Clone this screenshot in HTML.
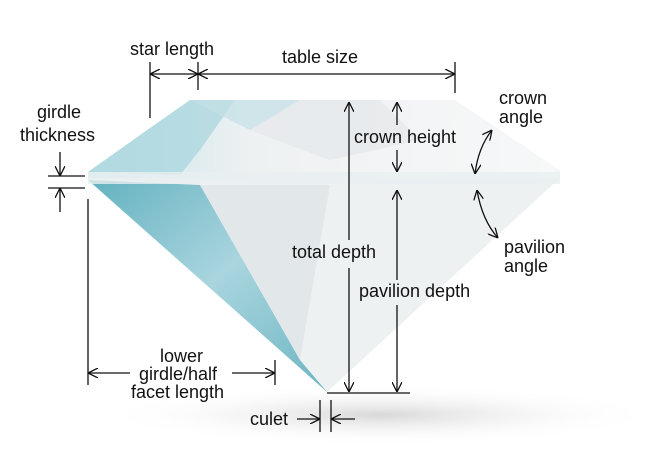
<!DOCTYPE html>
<html><head><meta charset="utf-8"><style>
html,body{margin:0;padding:0;background:#fff;}
svg{display:block;}
text{font-family:"Liberation Sans",sans-serif;font-size:18px;fill:#111;}
</style></head><body>
<svg width="655" height="460" viewBox="0 0 655 460">
<defs>
<linearGradient id="body" x1="0" x2="1" y1="0" y2="0">
<stop offset="0" stop-color="#c6e4ea"/><stop offset="0.35" stop-color="#eef1f2"/><stop offset="1" stop-color="#f7f8f9"/>
</linearGradient>
<linearGradient id="cyan" x1="0" x2="1" y1="0" y2="1">
<stop offset="0" stop-color="#4aa6b6"/><stop offset="0.5" stop-color="#9dd0db"/><stop offset="1" stop-color="#55abba"/>
</linearGradient>
<radialGradient id="shadow" cx="0.5" cy="0.5" r="0.5">
<stop offset="0" stop-color="#d8d8d8"/><stop offset="1" stop-color="#fff" stop-opacity="0"/>
</radialGradient>
<marker id="ah" viewBox="0 0 10 10" refX="10" refY="5" markerWidth="10" markerHeight="10" orient="auto-start-reverse" markerUnits="userSpaceOnUse">
<path d="M0,0 L10,5 L0,10" fill="none" stroke="#111" stroke-width="1.3"/>
</marker>
</defs>
<ellipse cx="380" cy="415" rx="280" ry="30" fill="url(#shadow)"/>
<g>
<polygon points="88,172 150,128 190,100 455,100 560,170 560,178 88,178" fill="url(#body)"/>
<polygon points="88,178 560,178 327,392" fill="#eef1f2"/>
<polygon points="88,180 200,185 300,360 327,392" fill="url(#cyan)" opacity="0.85"/>
<polygon points="88,172 150,128 190,100 235,100 200,150 180,175" fill="#a9d5de" opacity="0.75"/>
<polygon points="190,100 300,100 250,130" fill="#c2e0e6" opacity="0.7"/>
<polygon points="250,130 300,100 380,100 420,140 330,160" fill="#e6e9eb" opacity="0.8"/>
<polygon points="200,185 330,185 300,360" fill="#dde3e5" opacity="0.7"/>
<rect x="88" y="172" width="472" height="12" fill="#e8eff0" opacity="0.8"/>
</g>
<g stroke="#111" stroke-width="1.3" fill="none">
<line x1="150" y1="62" x2="150" y2="118"/>
<line x1="150" y1="74" x2="198" y2="74" marker-start="url(#ah)" marker-end="url(#ah)"/>
<line x1="198" y1="62" x2="198" y2="90"/>
<line x1="198" y1="74" x2="455" y2="74" marker-start="url(#ah)" marker-end="url(#ah)"/>
<line x1="455" y1="62" x2="455" y2="93"/>
<line x1="48" y1="176" x2="85" y2="176"/>
<line x1="48" y1="188" x2="85" y2="188"/>
<line x1="60" y1="152" x2="60" y2="176" marker-end="url(#ah)"/>
<line x1="60" y1="212" x2="60" y2="188" marker-end="url(#ah)"/>
<line x1="88" y1="199" x2="88" y2="385"/>
<line x1="275" y1="360" x2="275" y2="385"/>
<line x1="130" y1="373" x2="88" y2="373" marker-end="url(#ah)"/>
<line x1="232" y1="373" x2="275" y2="373" marker-end="url(#ah)"/>
<line x1="349" y1="240" x2="349" y2="102" marker-end="url(#ah)"/>
<line x1="349" y1="268" x2="349" y2="392" marker-end="url(#ah)"/>
<line x1="397" y1="125" x2="397" y2="102" marker-end="url(#ah)"/>
<line x1="397" y1="150" x2="397" y2="172" marker-end="url(#ah)"/>
<line x1="397" y1="280" x2="397" y2="190" marker-end="url(#ah)"/>
<line x1="397" y1="305" x2="397" y2="392" marker-end="url(#ah)"/>
<line x1="327" y1="393" x2="410" y2="393"/>
<path d="M475,174 Q478,148 492,130" marker-start="url(#ah)" marker-end="url(#ah)"/>
<path d="M477,190 Q482,220 498,238" marker-start="url(#ah)" marker-end="url(#ah)"/>
<line x1="320" y1="400" x2="320" y2="432"/>
<line x1="331" y1="400" x2="331" y2="432"/>
<line x1="297" y1="419" x2="320" y2="419" marker-end="url(#ah)"/>
<line x1="355" y1="419" x2="331" y2="419" marker-end="url(#ah)"/>
</g>
<g>
<text x="130" y="55">star length</text>
<text x="282" y="63">table size</text>
<text x="37" y="118">girdle</text>
<text x="20" y="141">thickness</text>
<text x="354" y="143">crown height</text>
<text x="499" y="104">crown</text>
<text x="499" y="123">angle</text>
<text x="292" y="258">total depth</text>
<text x="504" y="253">pavilion</text>
<text x="504" y="272">angle</text>
<text x="359" y="297">pavilion depth</text>
<text x="160" y="362">lower</text>
<text x="139" y="380">girdle/half</text>
<text x="131" y="398">facet length</text>
<text x="250" y="425">culet</text>
</g>
</svg>
</body></html>
